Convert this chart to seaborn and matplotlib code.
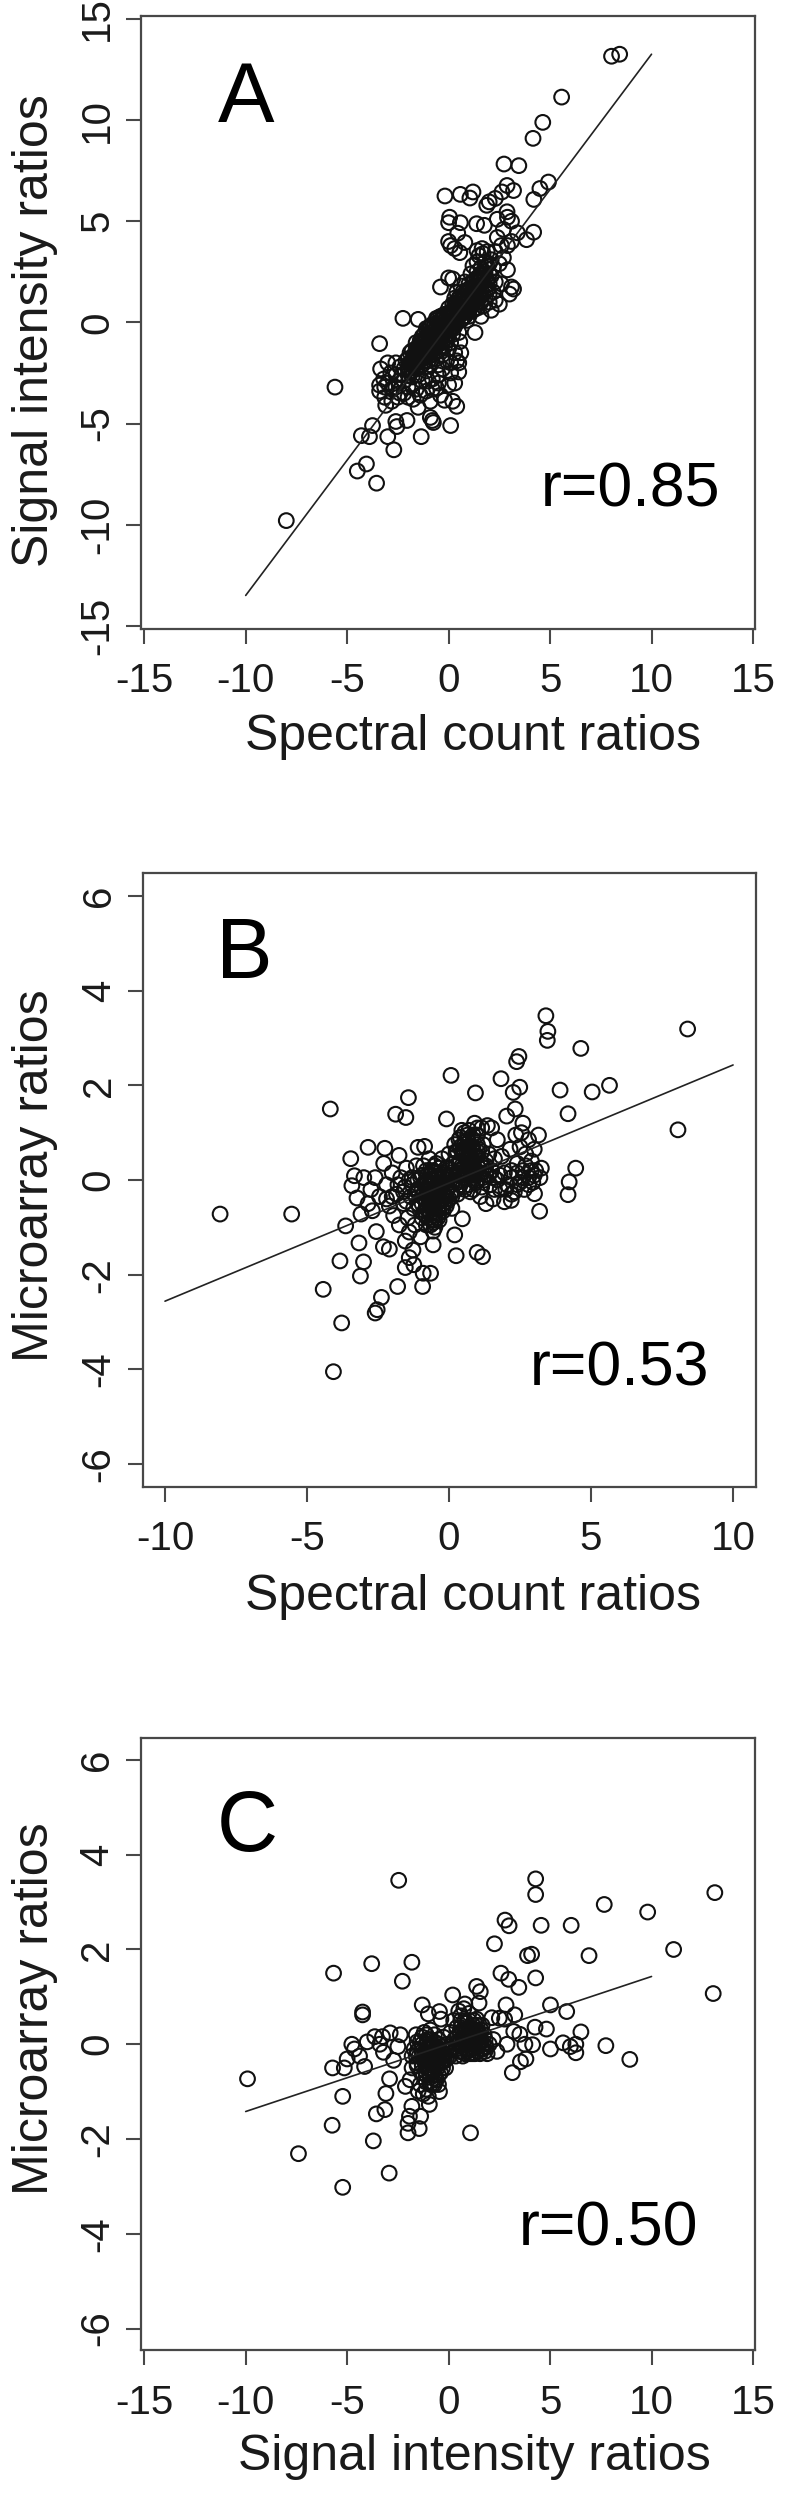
# Pairwise ratio comparisons: three scatter panels with fitted lines

import matplotlib
matplotlib.use("Agg")
import matplotlib.pyplot as plt
import seaborn as sns

sns.set_theme(style="ticks")
plt.rcParams["font.family"] = ["Liberation Sans", "DejaVu Sans"]
plt.rcParams["axes.unicode_minus"] = False

W, H = 800, 2501
INK = "#1a1a1a"
FRAME = "#484848"

# ------------------------------------------------------------
# Panel A
# ------------------------------------------------------------
a_x = [
    8.03, 8.43, 5.57, 4.64, 4.16, 2.73, 3.46, 4.92, 4.50, 4.20,
    2.88, 3.20, 2.63, 2.30, 2.00, 1.88, -0.18, 0.58, 1.20, 1.05,
    0.05, 0.00, 0.58, 1.38, 1.76, 0.45, 4.19, 3.84, 3.39, 2.88,
    2.90, 3.10, 2.40, 0.00, 0.10, 0.30, 0.55, 0.80, 1.40, 1.65,
    -8.00, -5.60, -3.55, -4.05, -4.50, -4.30, -3.90, -3.75, -3.00, -2.70,
    -2.60, -2.55, -2.05, -1.35, 0.10, -0.80, -0.75, -0.90, 0.40, 0.20,
    -3.40, -2.25, -1.50, -0.40, 0.00, 0.20, 3.10, 3.20, 3.00, 1.30,
    -3.35, -3.40, -3.15, -3.40, -3.15, -3.10, -2.80, -2.50, -2.20, -1.50,
    -3.00, -2.85, -2.60, -2.45, -2.20, -2.00, -1.75, -1.10, -0.90, -0.60,
    -0.40, -0.20, 0.00, 0.10, 0.30, 0.50, 0.40, 0.60, 0.55, -0.50,
    2.90, 3.10, 2.70, 2.90, 2.60, 2.30, 2.50, 2.10, 1.60, 1.80,
    -2.30, -2.10, -2.00, -1.90, -1.80, -1.80, -1.70, -1.60, -1.60, -1.50,
    -1.50, -1.40, -1.40, -1.30, -1.30, -1.20, -1.20, -1.10, -1.10, -1.10,
    -1.00, -1.00, -1.00, -0.90, -0.90, -0.90, -0.80, -0.80, -0.80, -0.70,
    -0.70, -0.70, -0.60, -0.60, -0.60, -0.50, -0.50, -0.50, -0.40, -0.40,
    -0.40, -0.30, -0.30, -0.30, -0.20, -0.20, -0.20, -0.10, -0.10, -0.10,
    0.00, 0.00, 0.00, 0.00, 0.10, 0.10, 0.10, 0.20, 0.20, 0.20,
    0.30, 0.30, 0.30, 0.40, 0.40, 0.40, 0.50, 0.50, 0.50, 0.60,
    0.60, 0.60, 0.70, 0.70, 0.70, 0.80, 0.80, 0.80, 0.90, 0.90,
    0.90, 1.00, 1.00, 1.00, 1.10, 1.10, 1.10, 1.20, 1.20, 1.20,
    1.30, 1.30, 1.30, 1.40, 1.40, 1.40, 1.50, 1.50, 1.50, 1.60,
    1.60, 1.70, 1.70, 1.70, 1.80, 1.80, 1.90, 1.90, 2.00, 2.00,
    2.10, 2.10, 2.20, 2.20, 2.30, 2.30, 2.40, 2.50, 2.60, 2.70,
]
a_y = [
    13.16, 13.26, 11.14, 9.89, 9.10, 7.83, 7.75, 6.94, 6.62, 6.08,
    6.77, 6.52, 6.45, 6.13, 5.96, 5.79, 6.25, 6.33, 6.45, 6.15,
    5.20, 4.93, 4.93, 4.88, 4.80, 4.41, 4.46, 4.09, 4.43, 5.47,
    5.20, 5.00, 5.10, 4.00, 3.80, 3.65, 3.45, 3.95, 3.55, 3.65,
    -9.80, -3.20, -7.95, -7.00, -7.35, -5.60, -5.65, -5.10, -5.65, -6.30,
    -4.90, -5.15, -4.85, -5.65, -5.10, -4.85, -4.95, -4.70, -4.15, -3.90,
    -1.05, 0.20, 0.15, 1.75, 2.20, 2.15, 1.75, 1.65, 1.40, -0.50,
    -2.30, -3.10, -3.20, -3.40, -3.70, -4.10, -3.90, -3.70, -3.50, -4.20,
    -2.00, -2.50, -2.00, -2.90, -2.30, -3.20, -3.80, -3.40, -3.90, -3.25,
    -3.60, -3.85, -3.10, -2.50, -3.00, -2.45, -1.90, -1.50, -0.95, -2.60,
    3.80, 4.00, 3.20, 2.60, 1.90, 1.10, 0.90, 0.60, 0.30, 3.00,
    -2.60, -1.90, -2.30, -1.50, -2.10, -2.70, -1.70, -2.30, -1.30, -1.90,
    -2.60, -1.50, -1.10, -2.10, -0.70, -1.70, -1.20, -2.40, -0.90, -0.30,
    -1.90, -1.40, -0.60, -1.10, -2.10, -0.20, -1.60, -0.80, -2.80, -1.20,
    -0.40, -0.10, -1.80, -0.90, 0.10, -1.40, -0.50, -2.10, -1.00, -0.20,
    0.30, -1.60, -0.70, 0.00, -1.20, -0.40, 0.40, -0.90, -0.10, -1.90,
    -0.60, 0.20, -1.30, 0.70, -0.30, 0.50, -1.00, 0.10, 0.90, -0.60,
    0.40, 1.20, -0.20, 0.70, 0.00, 1.50, 0.30, 1.00, -0.50, 0.60,
    1.30, 1.80, 0.20, 0.90, 1.50, 0.50, 1.20, 2.00, 0.80, 1.60,
    0.10, 1.10, 1.90, 0.50, 1.40, 2.40, 0.80, 1.70, 1.10, 2.80,
    0.70, 2.10, 1.40, 2.50, 3.00, 1.00, 1.80, 3.30, 2.20, 1.30,
    2.70, 2.00, 3.40, 0.80, 2.40, 1.50, 2.80, 3.50, 1.90, 1.00,
    2.30, 3.10, 1.50, 2.70, 3.50, 2.00, 4.20, 2.90, 3.80, 4.60,
]
# the solid black part of the cloud
a_core_x = [
    -2.0, -2.0, -2.0, -1.8, -1.8, -1.8, -1.6, -1.6, -1.6, -1.6,
    -1.4, -1.4, -1.4, -1.4, -1.2, -1.2, -1.2, -1.2, -1.0, -1.0,
    -1.0, -1.0, -0.8, -0.8, -0.8, -0.8, -0.6, -0.6, -0.6, -0.6,
    -0.4, -0.4, -0.4, -0.4, -0.2, -0.2, -0.2, -0.2, 0.0, 0.0,
    0.0, 0.2, 0.2, 0.2, 0.4, 0.4, 0.4, 0.6, 0.6, 0.6,
    0.6, 0.8, 0.8, 0.8, 0.8, 1.0, 1.0, 1.0, 1.0, 1.2,
    1.2, 1.2, 1.2, 1.4, 1.4, 1.4, 1.4, 1.6, 1.6, 1.6,
    1.6, 1.8, 1.8, 1.8, 1.8, 2.0, 2.0, 2.0,
    -1.9, -1.9, -1.7, -1.7, -1.5, -1.5, -1.5, -1.3, -1.3, -1.3,
    -1.1, -1.1, -1.1, -0.9, -0.9, -0.9, -0.7, -0.7, -0.7, -0.5,
    -0.5, -0.5, -0.3, -0.3, -0.3, -0.1, -0.1, -0.1, 0.1, 0.1,
    0.3, 0.3, 0.3, 0.5, 0.5, 0.7, 0.7, 0.7, 0.9, 0.9,
    1.1, 1.1, 1.3, 1.3, 1.5, 1.5, 1.7, 1.7, 1.9, 1.9,
]
a_core_y = [
    -2.6, -2.2, -1.8, -2.4, -1.9, -1.4, -2.2, -1.8, -1.5, -1.0,
    -2.2, -1.8, -1.3, -0.9, -1.9, -1.5, -1.0, -0.6, -1.7, -1.2,
    -0.9, -0.3, -1.4, -1.0, -0.5, -0.1, -1.2, -0.7, -0.3, 0.2,
    -1.2, -0.8, -0.4, 0.1, -0.8, -0.5, -0.1, 0.3, -0.4, 0.0,
    0.4, -0.2, 0.3, 0.6, 0.2, 0.5, 0.9, 0.1, 0.4, 0.8,
    1.1, 0.3, 0.7, 1.0, 1.4, 0.3, 0.8, 1.3, 1.6, 0.6,
    0.9, 1.4, 2.0, 0.7, 1.2, 1.6, 2.2, 1.0, 1.6, 2.1,
    2.4, 1.2, 1.8, 2.2, 2.7, 1.4, 2.4, 2.9,
    -2.4, -2.0, -2.1, -1.6, -2.0, -1.6, -1.2, -1.8, -1.4, -0.9,
    -1.6, -1.2, -0.7, -1.5, -0.9, -0.5, -1.0, -0.6, -0.2, -1.0,
    -0.6, -0.1, -1.0, -0.5, 0.2, -0.6, -0.2, 0.2, -0.1, 0.3,
    0.1, 0.5, 0.9, 0.6, 1.2, 0.5, 1.1, 1.3, 0.6, 1.1,
    1.0, 1.7, 1.1, 1.8, 1.2, 2.0, 1.4, 2.5, 1.6, 2.1,
]
# looser cloud below the band
a_low_x = [
    -3.2, -3.0, -2.8, -2.6, -2.6, -2.4, -2.4, -2.2, -2.0, -1.8,
    -1.6, -1.4, -1.3, -1.0, -0.8, -0.5, -0.3, 0.1, 0.3, 0.5,
]
a_low_y = [
    -2.8, -3.0, -3.3, -2.6, -3.2, -2.2, -3.5, -2.9, -3.7, -3.1,
    -3.3, -3.6, -2.9, -2.9, -3.3, -3.0, -2.3, -2.0, -1.5, -2.0,
]
a_line_x = [-10, 10]
a_line_y = [-13.5, 13.26]

# ------------------------------------------------------------
# Panel B
# ------------------------------------------------------------
b_x = [
    -8.06, -5.54, -4.18, -4.07, -3.78, -4.43, -2.60, -2.53, -2.38, -1.81,
    -0.93, -0.91, -0.65, -3.12, -3.01, -3.84, -3.17, -3.64, -3.10, -2.56,
    -2.31, -2.10, -1.54, -1.24, -1.40, -1.27, -1.54, -0.56, 0.25, 0.99,
    1.18, 0.20, 0.47, -0.56, 3.41, 3.48, 3.46, 4.64, 8.40, 2.46,
    2.38, 0.07, 1.83, 2.49, 2.26, 0.93, 3.91, 5.04, 5.65, 4.19,
    8.06, -1.43, -1.88, -1.52, 2.33, 2.03, -0.09, 2.60, -2.85, -3.46,
    -2.26, -1.76, -1.09, -0.86, 4.46, 4.23, 4.19, 3.19, 3.01, -3.33,
    -3.42, -3.24, 1.95, 2.19, -3.00, -2.75, -2.60, -2.85, -2.45, -2.30,
    -2.70, -2.20, -2.10, -2.00, -1.95, -1.85, -1.75, -1.70, -1.60, -1.55,
    -1.50, -1.45, -1.40, -1.35, -1.30, -1.25, -1.20, -1.15, -1.10, -1.05,
    -1.00, -1.00, -0.95, -0.90, -0.90, -0.85, -0.80, -0.80, -0.75, -0.75,
    -0.70, -0.70, -0.65, -0.65, -0.60, -0.60, -0.55, -0.55, -0.50, -0.50,
    -0.45, -0.45, -0.40, -0.40, -0.35, -0.35, -0.30, -0.30, -0.25, -0.20,
    -0.20, -0.15, -0.10, -0.10, -0.05, 0.00, 0.00, 0.05, 0.10, 0.10,
    0.15, 0.20, 0.20, 0.25, 0.30, 0.30, 0.35, 0.35, 0.40, 0.45,
    0.45, 0.50, 0.50, 0.55, 0.60, 0.60, 0.65, 0.70, 0.70, 0.75,
    0.80, 0.80, 0.85, 0.90, 0.90, 0.95, 1.00, 1.00, 1.05, 1.10,
    1.10, 1.15, 1.20, 1.25, 1.30, 1.30, 1.35, 1.40, 1.45, 1.50,
    1.55, 1.60, 1.70, 1.70, 1.80, 1.85, 1.95, 2.05, 2.15, 2.20,
    2.30, 2.35, 2.40, 2.50, 2.50, 2.60, 2.65, 2.70, 2.80, 2.80,
    2.90, 2.95, 3.00, 3.05, 3.15, 3.20, 3.25, 2.55, 1.50, 0.30,
]
b_y = [
    -0.72, -0.72, 1.50, -4.05, -3.02, -2.31, -2.81, -2.74, -2.48, -2.25,
    -2.25, -1.97, -1.97, -2.03, -1.73, -1.71, -1.33, -0.97, -0.72, -1.09,
    -1.41, -1.46, -1.85, -1.79, -1.64, -1.48, -1.29, -1.37, -1.60, -1.53,
    -1.62, -1.16, -0.82, -1.08, 3.47, 3.14, 2.95, 2.78, 3.19, 2.61,
    2.50, 2.21, 2.14, 1.96, 1.85, 1.84, 1.90, 1.86, 2.00, 1.40,
    1.06, 1.74, 1.39, 1.32, 1.50, 1.35, 1.29, 1.20, 0.69, 0.45,
    0.67, 0.52, 0.69, 0.71, 0.25, -0.04, -0.31, -0.66, -0.29, 0.09,
    -0.12, -0.38, -0.46, -0.43, 0.05, -0.20, 0.05, -0.50, -0.35, 0.35,
    -0.65, -0.10, -0.55, 0.15, -0.75, -0.30, -0.95, 0.05, -0.50, -0.15,
    0.25, -0.80, -1.10, -0.35, 0.05, -0.60, -0.95, 0.30, -0.20, -0.55,
    -1.20, 0.05, -0.35, -0.70, 0.30, -0.10, -0.50, -0.95, 0.10, -0.25,
    -0.65, 0.45, -0.40, -0.05, -0.85, 0.20, -0.55, -0.20, -0.75, 0.05,
    -0.35, 0.35, -0.60, -0.10, -0.85, 0.15, -0.45, -0.20, 0.45, -0.65,
    0.05, -0.35, 0.25, -0.55, -0.15, -0.40, 0.55, 0.10, -0.25, -0.60,
    0.35, 0.00, 0.75, 0.50, 0.15, -0.30, 0.85, 0.35, 0.00, 0.60,
    1.05, 0.25, -0.15, 0.80, 0.45, 0.05, 0.95, 0.25, 0.65, -0.25,
    0.10, 0.45, 0.85, 1.20, 0.25, -0.05, 0.60, 0.95, 0.15, -0.35,
    0.40, 1.10, 0.75, 0.00, 0.30, -0.50, 1.15, 0.55, -0.10, 0.20,
    -0.40, 0.45, 0.00, 0.85, -0.20, 0.50, 0.15, -0.10, 0.65, 0.20,
    -0.25, 0.95, 0.35, -0.05, 0.70, 0.20, -0.20, 0.55, 0.05, 0.85,
    0.40, -0.05, 0.65, 0.20, 0.95, 0.05, 0.25, 1.00, 1.10, 0.60,
]
b_core_x = [
    -1.1, -1.1, -1.1, -0.95, -0.95, -0.95, -0.95, -0.8, -0.8, -0.8,
    -0.8, -0.8, -0.65, -0.65, -0.65, -0.65, -0.65, -0.65, -0.5, -0.5,
    -0.5, -0.5, -0.5, -0.5, -0.5, -0.35, -0.35, -0.35, -0.35, -0.35,
    -0.35, -0.2, -0.2, -0.2, -0.2, -0.05, -0.05, -0.05, 0.1, 0.1,
    0.1, 0.25, 0.25, 0.25, 0.25, 0.4, 0.4, 0.4, 0.4, 0.4,
    0.55, 0.55, 0.55, 0.55, 0.55, 0.55, 0.7, 0.7, 0.7, 0.7,
    0.7, 0.7, 0.85, 0.85, 0.85, 0.85, 0.85, 0.85, 1.0, 1.0,
    1.0, 1.0, 1.0, 1.15, 1.15, 1.15, 1.15, 1.3, 1.3,
    -0.85, -0.85, -0.85, -0.7, -0.7, -0.7, -0.55, -0.55, -0.55, -0.55,
    -0.4, -0.4, -0.4, -0.25, -0.25, -0.25, -0.1, -0.1, 0.05, 0.05,
    0.3, 0.35, 0.45, 0.5, 0.5, 0.6, 0.6, 0.65, 0.75, 0.75,
    0.8, 0.8, 0.9, 0.95, 1.05, 1.05, 1.2, 1.25, -1.2, -1.3,
]
b_core_y = [
    -0.5, -0.2, 0.0, -0.8, -0.5, -0.2, 0.1, -0.75, -0.6, -0.3,
    -0.1, 0.2, -0.95, -0.7, -0.5, -0.3, -0.1, 0.1, -1.0, -0.85,
    -0.6, -0.4, -0.15, 0.15, 0.3, -0.7, -0.55, -0.3, -0.1, 0.1,
    0.25, -0.5, -0.3, -0.1, 0.15, -0.45, -0.2, 0.05, -0.35, -0.1,
    0.1, -0.2, 0.1, 0.3, 0.6, -0.1, 0.15, 0.4, 0.7, 0.9,
    -0.2, 0.05, 0.3, 0.55, 0.75, 1.0, -0.1, 0.1, 0.35, 0.55,
    0.8, 1.05, -0.2, 0.0, 0.2, 0.4, 0.65, 0.95, 0.0, 0.3,
    0.5, 0.75, 1.1, -0.15, 0.15, 0.35, 0.6, 0.1, 0.4,
    -0.65, -0.4, -0.05, -0.8, -0.45, -0.2, -0.9, -0.7, -0.3, 0.0,
    -0.8, -0.45, -0.2, -0.6, -0.4, -0.05, -0.35, 0.0, -0.3, 0.15,
    -0.05, 0.2, 0.3, 0.1, 0.65, 0.2, 0.65, 0.85, 0.2, 0.45,
    0.3, 0.7, 0.1, 0.5, 0.25, 0.65, 0.05, 0.25, -0.3, -0.1,
]
# flat band either side of the two blobs
b_band_x = [
    -1.6, -1.8, -2.0, -2.2, -1.4, -1.5, 1.6, 1.8, 2.0, 2.2,
    2.4, 2.6, 2.8, 3.0, 1.4, 1.6, 2.2, 2.4, 2.7, 2.9,
]
b_band_y = [
    -0.25, -0.1, -0.35, -0.4, 0.0, -0.45, 0.05, 0.1, -0.2, 0.05,
    -0.1, 0.05, -0.1, 0.1, 0.1, -0.2, -0.3, 0.15, 0.3, 0.2,
]
b_line_x = [-10, 10]
b_line_y = [-2.56, 2.43]

# ------------------------------------------------------------
# Panel C
# ------------------------------------------------------------
c_x = [
    -9.91, 13.12, 13.04, 11.09, 9.81, 7.67, 6.92, 6.04, 4.56, 4.29,
    4.29, -2.46, 2.78, 2.98, 2.26, 3.89, 4.09, 4.29, 2.58, 2.96,
    3.46, -5.67, -3.79, -1.81, -2.28, -4.24, -4.24, 2.83, 5.02, 5.82,
    3.26, 8.93, 7.75, 6.52, 6.27, 6.27, 5.02, 4.82, 4.26, 3.14,
    3.54, 3.81, -5.72, -5.14, -5.22, -5.74, -7.40, -5.22, -2.93, -3.71,
    1.08, -3.56, -3.14, -3.09, -2.91, -2.00, -1.45, -2.00, -1.93, -1.38,
    -1.81, -0.95, -2.13, -1.50, -0.45, -5.00, -4.77, -4.64, -4.14, -4.01,
    -3.64, -3.39, -3.21, -2.88, -2.71, -2.38, -2.50, -4.39, -3.26, 1.38,
    1.56, 1.50, 0.20, -1.30, -1.00, -0.45, -0.38, 0.80, 1.38, 2.13,
    2.76, 3.21, 3.51, 3.76, 4.14, 2.88, 2.38, 2.00, 5.64, 6.00,
    -1.90, -1.70, -1.60, -1.55, -1.40, -1.40, -1.30, -1.25, -1.20, -1.15,
    -1.10, -1.10, -1.05, -1.00, -1.00, -0.95, -0.90, -0.90, -0.85, -0.80,
    -0.80, -0.75, -0.70, -0.70, -0.65, -0.60, -0.55, -0.50, -0.50, -0.45,
    -0.40, -0.35, -0.30, -0.25, -0.20, -0.60, -1.20, -1.35, -0.15, -0.10,
    0.10, 0.20, 0.25, 0.30, 0.35, 0.40, 0.45, 0.50, 0.50, 0.55,
    0.60, 0.65, 0.70, 0.70, 0.75, 0.80, 0.85, 0.90, 0.95, 1.00,
    1.00, 1.05, 1.10, 1.15, 1.20, 1.25, 1.30, 1.35, 1.40, 1.45,
    1.50, 1.55, 1.60, 1.65, 1.70, 1.75, 1.85, 1.90, 2.20, 2.50,
]
c_y = [
    -0.73, 3.20, 1.07, 2.00, 2.79, 2.95, 1.87, 2.51, 2.51, 3.49,
    3.16, 3.46, 2.62, 2.50, 2.12, 1.87, 1.90, 1.40, 1.50, 1.37,
    1.20, 1.50, 1.70, 1.73, 1.33, 0.68, 0.62, 0.83, 0.83, 0.69,
    0.62, -0.32, -0.03, 0.26, 0.00, -0.18, -0.10, 0.32, 0.36, -0.60,
    -0.37, -0.31, -0.50, -0.50, -1.10, -1.71, -2.31, -3.02, -2.72, -2.04,
    -1.87, -1.47, -1.38, -1.04, -0.73, -1.87, -1.78, -1.67, -1.52, -1.52,
    -1.31, -1.27, -0.89, -0.99, -1.00, -0.31, 0.00, -0.10, -0.47, 0.05,
    0.16, 0.00, -0.17, 0.24, -0.34, 0.20, -0.05, -0.25, 0.16, 1.22,
    1.11, 0.87, 1.04, 0.83, 0.64, 0.69, 0.53, 0.85, 0.53, 0.56,
    0.53, 0.27, 0.21, 0.00, -0.01, 0.00, -0.15, 0.00, 0.03, -0.05,
    -0.75, -0.10, 0.20, -0.45, 0.05, -0.85, -0.25, -1.05, 0.25, -0.55,
    -0.10, -0.80, 0.10, -0.35, -1.10, -0.60, 0.00, 0.30, -0.20, -0.85,
    -0.45, -0.05, 0.20, -0.65, -0.30, -0.10, -0.50, -0.85, 0.10, -0.25,
    -0.60, -0.05, -0.35, 0.15, -0.20, -0.75, -0.35, -0.60, -0.50, 0.00,
    0.25, -0.10, 0.50, 0.10, -0.25, 0.35, 0.05, 0.70, -0.15, 0.25,
    0.50, 0.00, -0.25, 0.30, 0.75, 0.10, -0.10, 0.45, 0.20, -0.20,
    0.65, 0.05, 0.35, -0.10, 0.15, 0.50, -0.20, 0.05, 0.30, -0.05,
    0.15, -0.20, 0.05, 0.40, -0.10, 0.20, -0.05, -0.20, 0.10, 0.55,
]
c_core_x = [
    -1.8, -1.8, -1.55, -1.55, -1.55, -1.3, -1.3, -1.3, -1.3, -1.1,
    -1.1, -1.1, -1.1, -1.1, -0.9, -0.9, -0.9, -0.9, -0.9, -0.7,
    -0.7, -0.7, -0.7, -0.7, -0.5, -0.5, -0.5, -0.5, -0.3, -0.3,
    -0.3, -0.1, -0.1, 0.05, 0.4, 0.4, 0.6, 0.6, 0.6, 0.6,
    0.8, 0.8, 0.8, 0.8, 1.0, 1.0, 1.0, 1.0, 1.2, 1.2,
    1.2, 1.2, 1.4, 1.4, 1.4, 1.6, 1.6, 1.6, 1.8, 1.8,
    -1.2, -1.0, -1.0, -0.8, -0.8, -0.8, -0.6, -0.6, -0.4, -0.4,
    -0.2, 0.0, -1.45, -1.6, 0.7, 0.7, 0.9, 0.9, 1.1, 1.1,
    1.3, 1.3, 1.5, 1.5, 0.5, 0.9, 1.1, 1.7, -0.9, -1.1,
]
c_core_y = [
    -0.25, -0.5, -0.15, -0.4, 0.05, -0.45, -0.15, 0.0, 0.15, -0.65,
    -0.4, -0.2, 0.0, 0.2, -0.7, -0.5, -0.3, -0.1, 0.1, -0.85,
    -0.55, -0.35, -0.15, 0.05, -0.65, -0.4, -0.2, 0.0, -0.5, -0.25,
    -0.05, -0.3, -0.1, -0.25, -0.1, 0.15, -0.15, 0.1, 0.35, 0.6,
    -0.2, 0.0, 0.25, 0.5, -0.1, 0.1, 0.3, 0.5, -0.2, 0.0,
    0.2, 0.4, -0.15, 0.15, 0.4, -0.1, 0.1, 0.3, -0.15, 0.1,
    -0.25, -0.5, -0.2, -0.6, -0.2, 0.0, -0.4, -0.05, -0.4, -0.15,
    -0.35, -0.15, -0.25, -0.25, 0.0, 0.15, 0.1, 0.3, 0.0, 0.2,
    0.1, 0.3, 0.0, 0.25, 0.0, -0.15, -0.2, 0.0, -0.85, -0.95,
]
c_line_x = [-10, 10]
c_line_y = [-1.42, 1.43]

# Tick labels
wide_ticks = [-15, -10, -5, 0, 5, 10, 15]
b_xticks = [-10, -5, 0, 5, 10]
ratio_ticks = [-6, -4, -2, 0, 2, 4, 6]


def draw_panel(box, xs, ys, line_x, line_y, xlim, ylim, xticks, yticks,
               xlabel, ylabel, letter, letter_pos, r_text, r_pos,
               xlabel_px, ylabel_px):
    left, top, right, bottom = box
    fig = plt.gcf()
    ax = fig.add_axes([left / W, 1 - bottom / H, (right - left) / W, (bottom - top) / H])

    sns.scatterplot(x=xs, y=ys, ax=ax, s=112, marker="o", facecolors="none",
                    edgecolor="#111111", linewidth=1.5)
    sns.lineplot(x=line_x, y=line_y, ax=ax, color="#222222", linewidth=1.2, errorbar=None)

    ax.set_xlim(*xlim)
    ax.set_ylim(*ylim)
    ax.set_xticks(xticks)
    ax.set_yticks(yticks)
    ax.tick_params(axis="both", length=11, width=1.5, color=FRAME,
                   labelsize=29, labelcolor=INK)
    ax.tick_params(axis="x", pad=13)
    ax.tick_params(axis="y", pad=7)
    for lab in ax.get_yticklabels():
        lab.set_rotation(90)
        lab.set_va("center")
    for spine in ax.spines.values():
        spine.set_visible(True)
        spine.set_color(FRAME)
        spine.set_linewidth(1.6)

    ax.text(letter_pos[0], letter_pos[1], letter, fontsize=61, color="black", ha="center", va="center")
    ax.text(r_pos[0], r_pos[1], r_text, fontsize=45, color="black", ha="center", va="center")

    # axis titles sit off-centre in the original, so place them by pixel
    fig.text(xlabel_px[0] / W, 1 - xlabel_px[1] / H, xlabel, fontsize=36,
             color=INK, ha="center", va="center")
    fig.text(ylabel_px[0] / W, 1 - ylabel_px[1] / H, ylabel, fontsize=36,
             color=INK, ha="center", va="center", rotation=90)


def main():
    plt.figure(figsize=(W / 100, H / 100), dpi=100, facecolor="white")

    draw_panel((141, 16, 755, 629), a_x + a_core_x + a_low_x, a_y + a_core_y + a_low_y,
               a_line_x, a_line_y,
               (-15.16, 15.1), (-15.16, 15.15), wide_ticks, wide_ticks,
               "Spectral count ratios", "Signal intensity ratios",
               "A", (-9.96, 11.0), "r=0.85", (8.98, -8.29), (473, 737), (35, 331))
    draw_panel((142.7, 873, 755.5, 1487), b_x + b_core_x + b_band_x, b_y + b_core_y + b_band_y,
               b_line_x, b_line_y,
               (-10.785, 10.79), (-6.486, 6.486), b_xticks, ratio_ticks,
               "Spectral count ratios", "Microarray ratios",
               "B", (-7.22, 4.74), "r=0.53", (5.99, -4.0), (473, 1597), (35, 1176))
    draw_panel((141, 1737.7, 755, 2350.3), c_x + c_core_x, c_y + c_core_y,
               c_line_x, c_line_y,
               (-15.16, 15.1), (-6.46, 6.47), wide_ticks, ratio_ticks,
               "Signal intensity ratios", "Microarray ratios",
               "C", (-9.93, 4.55), "r=0.50", (7.9, -3.9), (474, 2457), (35, 2009))

    plt.savefig("out.png", dpi=100)


if __name__ == "__main__":
    main()
